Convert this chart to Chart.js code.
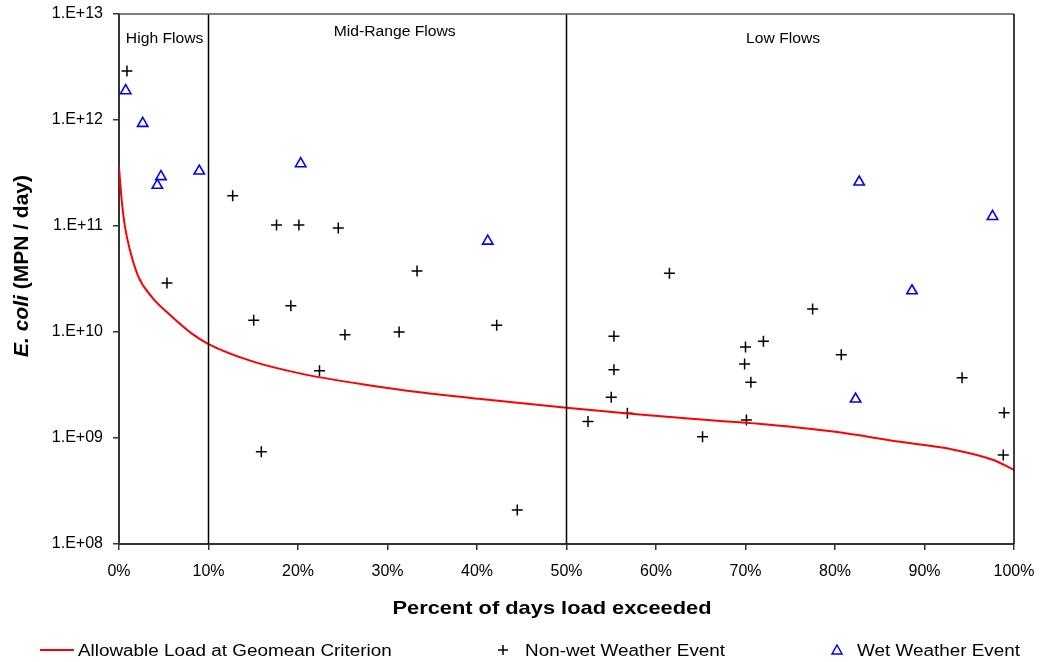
<!DOCTYPE html>
<html>
<head>
<meta charset="utf-8">
<script src="https://cdn.jsdelivr.net/npm/chart.js@4.4.1/dist/chart.umd.min.js"></script>
<style>
  body { margin: 0; background: #fff; }
</style>
</head>
<body>
<canvas id="chart" width="1042" height="662"></canvas>
<script>
// allowable load curve (load duration curve), % of days exceeded vs MPN/day
const curvePct = [0, 0.3, 0.67, 1.23, 2.16, 3.65, 5.5, 8.1, 10, 15, 20.2, 27.7, 33.6, 40.7, 50, 57.5, 67.2, 72.4, 79.8, 87.3, 92.8, 97.7, 100];
const curveLoad = [3.6e11, 1.76e11, 9.8e10, 5.9e10, 3.33e10, 2.15e10, 1.5e10, 9.7e9, 7.7e9, 5.25e9, 4.07e9, 3.16e9, 2.7e9, 2.32e9, 1.93e9, 1.68e9, 1.45e9, 1.34e9, 1.15e9, 9.2e8, 7.9e8, 6.2e8, 5.0e8];

// non-wet weather samples
const dryPct = [0.89, 5.36, 12.7, 17.6, 20.1, 24.5, 33.3, 15.05, 19.2, 25.25, 31.3, 22.4, 15.9, 42.2, 44.5, 61.5, 55.3, 55.3, 55.0, 56.8, 52.4, 65.2, 70.0, 69.9, 70.6, 72.0, 70.1, 77.5, 80.7, 94.2, 98.9, 98.8];
const dryLoad = [2.9e12, 2.9e10, 1.93e11, 1.02e11, 1.02e11, 9.6e10, 3.76e10, 1.29e10, 1.77e10, 9.4e9, 1e10, 4.3e9, 7.4e8, 1.16e10, 2.09e8, 3.58e10, 9.1e9, 4.4e9, 2.42e9, 1.71e9, 1.43e9, 1.03e9, 7.2e9, 4.99e9, 3.35e9, 8.2e9, 1.48e9, 1.65e10, 6.1e9, 3.7e9, 1.73e9, 6.9e8];

// wet weather samples
const wetPct = [0.75, 2.65, 4.69, 4.28, 8.97, 20.3, 41.2, 82.7, 97.6, 88.6, 82.3];
const wetLoad = [1.89e12, 9.3e11, 2.92e11, 2.42e11, 3.3e11, 3.87e11, 7.2e10, 2.6e11, 1.23e11, 2.45e10, 2.33e9];

// flow zone boundaries and labels
const zoneBounds = [10, 50];
const zoneLabels = ['High Flows', 'Mid-Range Flows', 'Low Flows'];
const zoneLabelPct = [5.1, 30.8, 74.2];
const zoneLabelLoad = [5.3e12, 6.2e12, 5.3e12];

const xTicks = [0, 10, 20, 30, 40, 50, 60, 70, 80, 90, 100];
const yTicks = [1e8, 1e9, 1e10, 1e11, 1e12, 1e13];

const FONT = '"Liberation Sans", Arial, sans-serif';

function pts(xs, ys) {
  return xs.map((x, i) => ({ x: x, y: ys[i] }));
}

const zoneSets = zoneBounds.map(b => ({
  label: 'zone',
  data: [{ x: b, y: 1e8 }, { x: b, y: 1e13 }],
  showLine: true,
  borderColor: '#000',
  borderWidth: 1.5,
  pointRadius: 0
}));

// draws the titles, zone labels, frame and legend
const extras = {
  id: 'extras',
  afterDraw(chart) {
    const ctx = chart.ctx;
    const a = chart.chartArea;
    const xs = chart.scales.x, ys = chart.scales.y;
    ctx.save();

    // top and right frame
    ctx.strokeStyle = '#555';
    ctx.lineWidth = 1.5;
    ctx.beginPath();
    ctx.moveTo(a.left, a.top);
    ctx.lineTo(a.right, a.top);
    ctx.stroke();
    ctx.strokeStyle = '#000';
    ctx.beginPath();
    ctx.moveTo(a.right, a.top);
    ctx.lineTo(a.right, a.bottom);
    ctx.stroke();

    function stretched(text, x, y, font, align, sx) {
      ctx.save();
      ctx.font = font;
      ctx.textBaseline = 'alphabetic';
      const w = ctx.measureText(text).width * sx;
      let left = x;
      if (align === 'center') left = x - w / 2;
      ctx.translate(left, y);
      ctx.scale(sx, 1);
      ctx.textAlign = 'left';
      ctx.fillText(text, 0, 0);
      ctx.restore();
    }

    ctx.fillStyle = '#000';
    // zone labels
    zoneLabels.forEach((t, i) => {
      stretched(t, xs.getPixelForValue(zoneLabelPct[i]), ys.getPixelForValue(zoneLabelLoad[i]),
        '14px ' + FONT, 'center', 1.12);
    });

    // x axis title
    stretched('Percent of days load exceeded', 552, 614, 'bold 18.5px ' + FONT, 'center', 1.18);

    // y axis title, mixed italic
    ctx.save();
    ctx.translate(28, 266);
    ctx.rotate(-Math.PI / 2);
    ctx.textBaseline = 'alphabetic';
    const f1 = 'italic bold 21px ' + FONT, f2 = 'bold 21px ' + FONT;
    ctx.font = f1;
    const w1 = ctx.measureText('E. coli').width;
    ctx.font = f2;
    const w2 = ctx.measureText(' (MPN / day)').width;
    let sx0 = -(w1 + w2) / 2;
    ctx.font = f1;
    ctx.fillText('E. coli', sx0, 0);
    ctx.font = f2;
    ctx.fillText(' (MPN / day)', sx0 + w1, 0);
    ctx.restore();

    // legend
    const ly = 650;
    ctx.strokeStyle = '#ff0000';
    ctx.lineWidth = 2;
    ctx.beginPath();
    ctx.moveTo(40, ly);
    ctx.lineTo(74, ly);
    ctx.stroke();
    stretched('Allowable Load at Geomean Criterion', 78, ly + 6, '16px ' + FONT, 'left', 1.18);

    ctx.strokeStyle = '#000';
    ctx.lineWidth = 1.5;
    ctx.beginPath();
    ctx.moveTo(498, ly);
    ctx.lineTo(508, ly);
    ctx.moveTo(503, ly - 5);
    ctx.lineTo(503, ly + 5);
    ctx.stroke();
    stretched('Non-wet Weather Event', 525, ly + 6, '16px ' + FONT, 'left', 1.18);

    ctx.strokeStyle = '#0000ff';
    ctx.beginPath();
    ctx.moveTo(837, ly - 5);
    ctx.lineTo(842, ly + 4);
    ctx.lineTo(832, ly + 4);
    ctx.closePath();
    ctx.stroke();
    stretched('Wet Weather Event', 857, ly + 6, '16px ' + FONT, 'left', 1.18);

    ctx.restore();
  }
};

new Chart(document.getElementById('chart'), {
  type: 'scatter',
  data: {
    datasets: [
      ...zoneSets,
      {
        label: 'Allowable Load at Geomean Criterion',
        data: pts(curvePct, curveLoad),
        showLine: true,
        borderColor: '#ff0000',
        borderWidth: 2,
        pointRadius: 0,
        cubicInterpolationMode: 'monotone'
      },
      {
        label: 'Non-wet Weather Event',
        data: pts(dryPct, dryLoad),
        pointStyle: 'cross',
        pointRadius: 5.5,
        borderColor: '#000',
        borderWidth: 1.5
      },
      {
        label: 'Wet Weather Event',
        data: pts(wetPct, wetLoad),
        pointStyle: 'triangle',
        pointRadius: 6,
        backgroundColor: 'rgba(255,255,255,0)',
        borderColor: '#0000ff',
        borderWidth: 1.6
      }
    ]
  },
  options: {
    responsive: false,
    animation: false,
    devicePixelRatio: 1,
    layout: { padding: { left: 0, right: 28, top: 14, bottom: 0 } },
    plugins: {
      legend: { display: false },
      tooltip: { enabled: false }
    },
    scales: {
      x: {
        type: 'linear',
        min: 0,
        max: 100,
        afterBuildTicks: s => { s.ticks = xTicks.map(v => ({ value: v })); },
        afterFit: s => { s.height = 118; s.paddingLeft = 0; s.paddingRight = 0; },
        ticks: {
          callback: v => v + '%',
          font: { family: FONT, size: 16 },
          color: '#000',
          padding: 12,
          maxRotation: 0
        },
        grid: { drawOnChartArea: false, tickLength: 6, color: '#333', lineWidth: 1.5 },
        border: { color: '#333', width: 2 }
      },
      y: {
        type: 'logarithmic',
        min: 1e8,
        max: 1e13,
        afterBuildTicks: s => { s.ticks = yTicks.map(v => ({ value: v })); },
        afterFit: s => { s.width = 119; s.paddingTop = 0; s.paddingBottom = 0; },
        ticks: {
          callback: v => '1.E+' + String(Math.round(Math.log10(v))).padStart(2, '0'),
          font: { family: FONT, size: 16 },
          color: '#000',
          padding: 10
        },
        grid: { drawOnChartArea: false, tickLength: 6, color: '#333', lineWidth: 1.5 },
        border: { color: '#333', width: 2 }
      }
    }
  },
  plugins: [extras]
});
</script>
</body>
</html>
